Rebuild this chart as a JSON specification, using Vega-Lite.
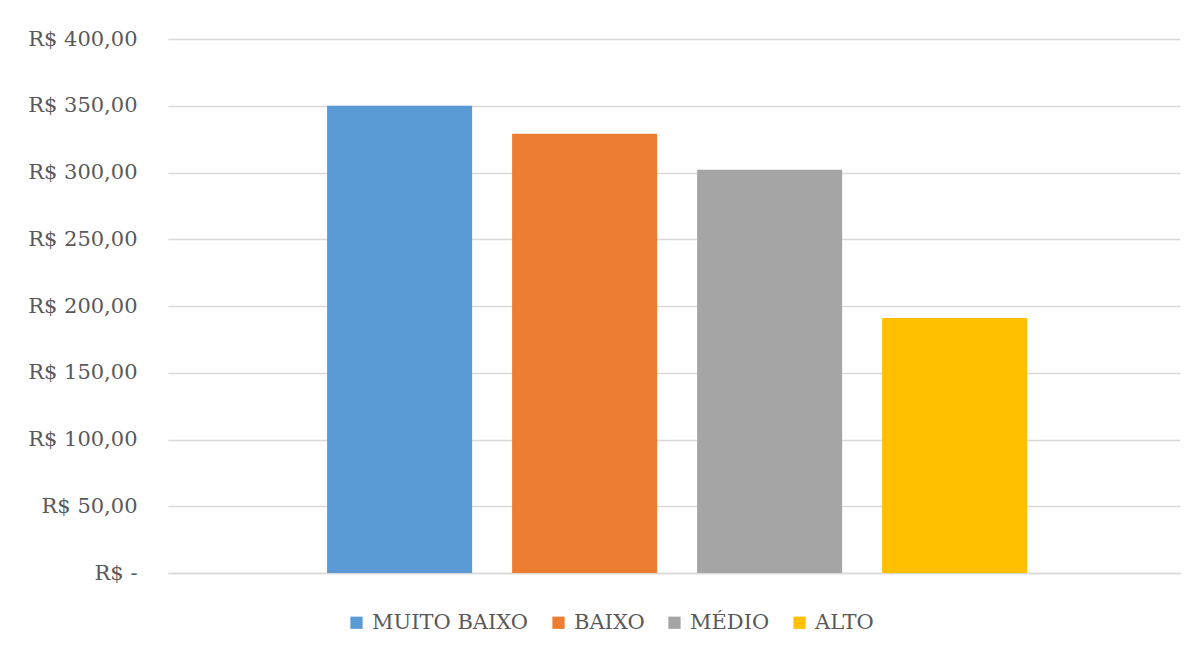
{
  "$schema": "https://vega.github.io/schema/vega-lite/v6.json",
  "width": 1012,
  "height": 534,
  "autosize": {"type": "none"},
  "padding": {"left": 168, "top": 39, "right": 16, "bottom": 75},
  "background": "white",
  "data": {
    "values": [
      {"nivel": "MUITO BAIXO", "valor": 350},
      {"nivel": "BAIXO", "valor": 329},
      {"nivel": "MÉDIO", "valor": 302},
      {"nivel": "ALTO", "valor": 191}
    ]
  },
  "mark": {"type": "bar"},
  "encoding": {
    "x": {
      "field": "nivel",
      "type": "nominal",
      "sort": ["MUITO BAIXO", "BAIXO", "MÉDIO", "ALTO"],
      "scale": {"paddingInner": 0.216, "paddingOuter": 0.843, "align": 0.51},
      "axis": {"title": null, "labels": false, "ticks": false, "domainColor": "#d9d9d9", "domainWidth": 1.5}
    },
    "y": {
      "field": "valor",
      "type": "quantitative",
      "scale": {"domain": [0, 400]},
      "axis": {
        "title": null,
        "values": [0, 50, 100, 150, 200, 250, 300, 350, 400],
        "labelExpr": "datum.value == 0 ? 'R$ -' : 'R$ ' + replace(format(datum.value, '.2f'), '.', ',')",
        "labelFont": "DejaVu Serif",
        "labelFontSize": 21,
        "labelColor": "#595959",
        "labelPadding": 31,
        "ticks": false,
        "domain": false,
        "gridColor": "#d9d9d9",
        "gridWidth": 1.5
      }
    },
    "color": {
      "field": "nivel",
      "type": "nominal",
      "sort": ["MUITO BAIXO", "BAIXO", "MÉDIO", "ALTO"],
      "scale": {
        "domain": ["MUITO BAIXO", "BAIXO", "MÉDIO", "ALTO"],
        "range": ["#5B9BD5", "#ED7D31", "#A5A5A5", "#FFC000"]
      },
      "legend": {
        "title": null,
        "orient": "none",
        "direction": "horizontal",
        "legendX": 178,
        "legendY": 573,
        "symbolType": "square",
        "symbolSize": 150,
        "symbolStrokeWidth": 0,
        "labelFont": "DejaVu Serif",
        "labelFontSize": 21,
        "labelColor": "#595959",
        "labelOffset": 5,
        "columnPadding": 19
      }
    }
  },
  "config": {"view": {"stroke": null}}
}
